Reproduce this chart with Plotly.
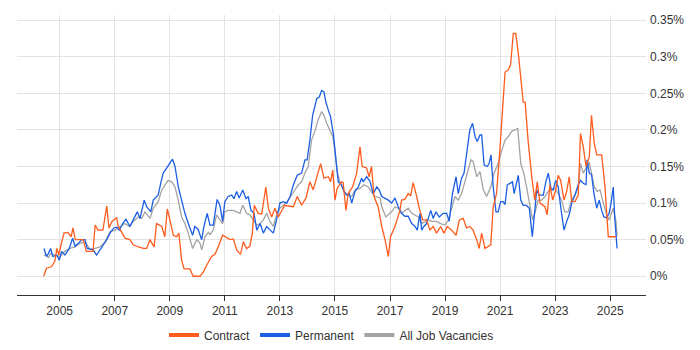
import plotly.graph_objects as go

# Decimal-year positions and percentage values
contract_t = [2004.42, 2004.52, 2004.70, 2004.82, 2004.90, 2004.97, 2005.06, 2005.16, 2005.30, 2005.42,
              2005.48, 2005.57, 2005.74, 2005.85, 2005.97, 2006.10, 2006.21, 2006.29, 2006.39, 2006.57,
              2006.71, 2006.79, 2006.90, 2007.07, 2007.13, 2007.26, 2007.37, 2007.55, 2007.67, 2007.86,
              2008.04, 2008.16, 2008.28, 2008.43, 2008.52, 2008.71, 2008.82, 2008.91, 2009.01, 2009.13,
              2009.25, 2009.33, 2009.43, 2009.52, 2009.73, 2009.85, 2010.10, 2010.22, 2010.34, 2010.52,
              2010.64, 2010.76, 2010.92, 2011.07, 2011.19, 2011.31, 2011.43, 2011.57, 2011.67, 2011.79,
              2011.91, 2012.00, 2012.07, 2012.21, 2012.34, 2012.49, 2012.58, 2012.70, 2012.82, 2012.94,
              2013.06, 2013.18, 2013.30, 2013.49, 2013.63, 2013.79, 2013.95, 2014.09, 2014.21, 2014.34,
              2014.48, 2014.60, 2014.76, 2014.84, 2014.92, 2015.00, 2015.08, 2015.24, 2015.30, 2015.40,
              2015.48, 2015.64, 2015.79, 2015.91, 2015.99, 2016.15, 2016.24, 2016.33, 2016.42, 2016.57,
              2016.70, 2016.82, 2016.94, 2017.02, 2017.18, 2017.36, 2017.42, 2017.54, 2017.66, 2017.75,
              2017.84, 2017.97, 2018.06, 2018.19, 2018.33, 2018.45, 2018.57, 2018.69, 2018.84, 2018.96,
              2019.08, 2019.24, 2019.40, 2019.52, 2019.66, 2019.78, 2019.90, 2020.02, 2020.15, 2020.24,
              2020.33, 2020.45, 2020.53, 2020.66, 2020.75, 2020.87, 2020.99, 2021.09, 2021.18, 2021.30,
              2021.38, 2021.48, 2021.57, 2021.66, 2021.75, 2021.84, 2021.91, 2022.02, 2022.15, 2022.26,
              2022.35, 2022.45, 2022.63, 2022.71, 2022.81, 2022.91, 2023.02, 2023.11, 2023.20, 2023.32,
              2023.42, 2023.51, 2023.60, 2023.72, 2023.84, 2023.92, 2024.02, 2024.12, 2024.24, 2024.32,
              2024.42, 2024.51, 2024.69, 2024.81, 2024.93, 2025.05, 2025.21]
contract_v = [0.0, 0.011, 0.013, 0.02, 0.038, 0.029, 0.045, 0.059, 0.06, 0.054,
              0.066, 0.05, 0.05, 0.05, 0.034, 0.034, 0.034, 0.07, 0.063, 0.063,
              0.096, 0.066, 0.075, 0.08, 0.068, 0.06, 0.052, 0.05, 0.043, 0.04,
              0.038, 0.038, 0.05, 0.04, 0.072, 0.068, 0.054, 0.092, 0.077, 0.056,
              0.054, 0.059, 0.022, 0.01, 0.01, 0.0, 0.0, 0.006, 0.015, 0.027,
              0.03, 0.04, 0.056, 0.052, 0.05, 0.051, 0.036, 0.03, 0.047, 0.038,
              0.041, 0.059, 0.097, 0.086, 0.085, 0.122, 0.093, 0.081, 0.093, 0.081,
              0.09, 0.097, 0.096, 0.095, 0.109, 0.097, 0.107, 0.129, 0.118, 0.134,
              0.154, 0.134, 0.136, 0.129, 0.145, 0.104, 0.12, 0.129, 0.128, 0.09,
              0.113, 0.122, 0.141, 0.177, 0.15, 0.148, 0.136, 0.15, 0.109, 0.095,
              0.068, 0.05, 0.027, 0.054, 0.068, 0.09, 0.104, 0.105, 0.113, 0.11,
              0.128, 0.109, 0.093, 0.077, 0.077, 0.063, 0.068, 0.059, 0.068, 0.059,
              0.068, 0.063, 0.056, 0.077, 0.079, 0.066, 0.068, 0.063, 0.05, 0.038,
              0.059, 0.038, 0.04, 0.043, 0.095, 0.113, 0.172, 0.227, 0.279, 0.282,
              0.289, 0.332, 0.332, 0.305, 0.273, 0.238, 0.238, 0.184, 0.136, 0.104,
              0.129, 0.1, 0.095, 0.084, 0.125, 0.104, 0.118, 0.138, 0.131, 0.104,
              0.116, 0.136, 0.102, 0.102, 0.111, 0.195, 0.177, 0.15, 0.163, 0.22,
              0.182, 0.166, 0.166, 0.122, 0.054, 0.054, 0.054]

permanent_t = [2004.43, 2004.52, 2004.59, 2004.67, 2004.75, 2004.89, 2004.99, 2005.07, 2005.19, 2005.35,
               2005.47, 2005.56, 2005.68, 2005.80, 2005.92, 2006.00, 2006.10, 2006.22, 2006.34, 2006.46,
               2006.58, 2006.71, 2006.83, 2006.97, 2007.07, 2007.17, 2007.29, 2007.41, 2007.55, 2007.67,
               2007.82, 2007.92, 2008.07, 2008.16, 2008.31, 2008.40, 2008.58, 2008.67, 2008.76, 2008.89,
               2009.01, 2009.10, 2009.19, 2009.31, 2009.43, 2009.55, 2009.71, 2009.83, 2009.91, 2010.03,
               2010.16, 2010.24, 2010.36, 2010.46, 2010.58, 2010.72, 2010.82, 2010.92, 2011.00, 2011.12,
               2011.25, 2011.33, 2011.43, 2011.52, 2011.65, 2011.77, 2011.85, 2011.95, 2012.06, 2012.16,
               2012.28, 2012.40, 2012.52, 2012.64, 2012.76, 2012.88, 2013.00, 2013.12, 2013.25, 2013.37,
               2013.49, 2013.63, 2013.79, 2013.91, 2013.99, 2014.09, 2014.19, 2014.27, 2014.34, 2014.43,
               2014.52, 2014.60, 2014.67, 2014.76, 2014.84, 2014.94, 2015.04, 2015.12, 2015.24, 2015.33,
               2015.43, 2015.52, 2015.61, 2015.73, 2015.85, 2015.97, 2016.03, 2016.15, 2016.27, 2016.39,
               2016.52, 2016.61, 2016.70, 2016.82, 2016.94, 2017.06, 2017.18, 2017.30, 2017.42, 2017.54,
               2017.66, 2017.79, 2017.91, 2017.99, 2018.09, 2018.15, 2018.23, 2018.33, 2018.48, 2018.57,
               2018.67, 2018.79, 2018.93, 2019.06, 2019.15, 2019.27, 2019.40, 2019.48, 2019.60, 2019.69,
               2019.78, 2019.90, 2020.00, 2020.09, 2020.17, 2020.27, 2020.33, 2020.42, 2020.53, 2020.60,
               2020.67, 2020.75, 2020.85, 2020.93, 2021.02, 2021.11, 2021.18, 2021.26, 2021.36, 2021.45,
               2021.51, 2021.60, 2021.66, 2021.75, 2021.84, 2021.96, 2022.06, 2022.17, 2022.26, 2022.33,
               2022.42, 2022.57, 2022.66, 2022.75, 2022.85, 2022.93, 2023.02, 2023.11, 2023.20, 2023.32,
               2023.42, 2023.51, 2023.60, 2023.72, 2023.84, 2023.92, 2024.02, 2024.12, 2024.16, 2024.24,
               2024.32, 2024.41, 2024.51, 2024.60, 2024.69, 2024.77, 2024.87, 2024.96, 2025.03, 2025.11,
               2025.17, 2025.25]
permanent_v = [0.038, 0.027, 0.031, 0.038, 0.027, 0.029, 0.022, 0.034, 0.029, 0.038,
               0.052, 0.041, 0.045, 0.05, 0.05, 0.038, 0.037, 0.036, 0.029, 0.036,
               0.043, 0.05, 0.059, 0.066, 0.067, 0.063, 0.072, 0.078, 0.068, 0.077,
               0.088, 0.079, 0.104, 0.095, 0.088, 0.104, 0.111, 0.127, 0.141, 0.148,
               0.154, 0.16, 0.15, 0.122, 0.104, 0.086, 0.068, 0.056, 0.068, 0.064,
               0.05, 0.068, 0.086, 0.07, 0.07, 0.105, 0.097, 0.075, 0.102, 0.109,
               0.111, 0.106, 0.116, 0.107, 0.118, 0.106, 0.109, 0.09, 0.086, 0.063,
               0.072, 0.059, 0.068, 0.063, 0.059, 0.077, 0.1, 0.102, 0.1, 0.109,
               0.125, 0.138, 0.141, 0.159, 0.159, 0.186, 0.22, 0.232, 0.243, 0.245,
               0.254, 0.252, 0.238, 0.227, 0.218, 0.195, 0.163, 0.129, 0.125, 0.116,
               0.111, 0.113, 0.1, 0.116, 0.122, 0.134, 0.129, 0.136, 0.13, 0.113,
               0.122, 0.118, 0.109, 0.107, 0.104, 0.1, 0.107, 0.095, 0.086, 0.082,
               0.082, 0.072, 0.068, 0.063, 0.086, 0.063, 0.068, 0.072, 0.09, 0.079,
               0.088, 0.081, 0.086, 0.086, 0.075, 0.113, 0.136, 0.113, 0.134, 0.141,
               0.168, 0.2, 0.209, 0.191, 0.184, 0.193, 0.193, 0.152, 0.15, 0.154,
               0.166, 0.122, 0.088, 0.088, 0.102, 0.102, 0.098, 0.125, 0.127, 0.129,
               0.113, 0.129, 0.138, 0.104, 0.097, 0.097, 0.093, 0.054, 0.095, 0.118,
               0.111, 0.111, 0.129, 0.141, 0.12, 0.118, 0.131, 0.122, 0.095, 0.063,
               0.075, 0.084, 0.1, 0.111, 0.125, 0.131, 0.127, 0.125, 0.159, 0.141,
               0.139, 0.113, 0.093, 0.104, 0.09, 0.081, 0.08, 0.086, 0.1, 0.122,
               0.077, 0.038]

all_t = [2004.43, 2004.52, 2004.59, 2004.67, 2004.83, 2005.01, 2005.19, 2005.37, 2005.56, 2005.74,
         2005.92, 2006.10, 2006.28, 2006.46, 2006.65, 2006.83, 2007.01, 2007.19, 2007.37, 2007.55,
         2007.67, 2007.86, 2007.98, 2008.10, 2008.28, 2008.40, 2008.58, 2008.71, 2008.82, 2008.94,
         2009.07, 2009.19, 2009.31, 2009.43, 2009.55, 2009.67, 2009.83, 2009.98, 2010.10, 2010.16,
         2010.28, 2010.40, 2010.46, 2010.58, 2010.70, 2010.82, 2010.92, 2011.00, 2011.12, 2011.31,
         2011.43, 2011.55, 2011.65, 2011.79, 2011.91, 2012.03, 2012.16, 2012.28, 2012.40, 2012.52,
         2012.64, 2012.76, 2012.90, 2013.00, 2013.12, 2013.27, 2013.39, 2013.51, 2013.67, 2013.79,
         2013.91, 2014.03, 2014.15, 2014.27, 2014.39, 2014.52, 2014.60, 2014.70, 2014.82, 2014.92,
         2015.00, 2015.08, 2015.18, 2015.33, 2015.45, 2015.61, 2015.73, 2015.91, 2016.05, 2016.21,
         2016.33, 2016.45, 2016.64, 2016.70, 2016.85, 2016.94, 2017.06, 2017.18, 2017.30, 2017.42,
         2017.54, 2017.66, 2017.79, 2017.91, 2018.03, 2018.15, 2018.27, 2018.39, 2018.51, 2018.69,
         2018.84, 2019.00, 2019.12, 2019.24, 2019.36, 2019.48, 2019.60, 2019.72, 2019.84, 2019.94,
         2020.02, 2020.15, 2020.27, 2020.39, 2020.51, 2020.66, 2020.78, 2020.93, 2021.06, 2021.18,
         2021.30, 2021.42, 2021.54, 2021.64, 2021.75, 2021.86, 2021.96, 2022.08, 2022.18, 2022.26,
         2022.38, 2022.51, 2022.63, 2022.75, 2022.87, 2022.99, 2023.11, 2023.23, 2023.35, 2023.47,
         2023.60, 2023.72, 2023.84, 2023.92, 2024.02, 2024.14, 2024.24, 2024.32, 2024.42, 2024.53,
         2024.63, 2024.75, 2024.87, 2024.96, 2025.05, 2025.11, 2025.21, 2025.25]
all_v = [0.029, 0.029, 0.025, 0.031, 0.029, 0.027, 0.034, 0.038, 0.04, 0.045,
         0.047, 0.037, 0.038, 0.04, 0.047, 0.061, 0.063, 0.068, 0.072, 0.068,
         0.075, 0.081, 0.079, 0.088, 0.079, 0.093, 0.102, 0.118, 0.125, 0.131,
         0.129, 0.122, 0.104, 0.081, 0.072, 0.059, 0.038, 0.05, 0.045, 0.036,
         0.054, 0.06, 0.057, 0.063, 0.084, 0.077, 0.072, 0.088, 0.09, 0.09,
         0.088, 0.086, 0.097, 0.086, 0.084, 0.077, 0.07, 0.072, 0.077, 0.086,
         0.075, 0.068, 0.086, 0.093, 0.097, 0.102, 0.109, 0.116, 0.125, 0.129,
         0.141, 0.15, 0.186, 0.198, 0.214, 0.225, 0.22, 0.209, 0.2, 0.191,
         0.172, 0.143, 0.129, 0.116, 0.111, 0.109, 0.118, 0.12, 0.125, 0.122,
         0.115, 0.109, 0.107, 0.095, 0.081, 0.084, 0.088, 0.095, 0.093, 0.086,
         0.09, 0.093, 0.086, 0.084, 0.081, 0.072, 0.075, 0.077, 0.075, 0.075,
         0.072, 0.07, 0.077, 0.095, 0.109, 0.104, 0.113, 0.129, 0.145, 0.159,
         0.157, 0.136, 0.143, 0.118, 0.109, 0.122, 0.141, 0.154, 0.172, 0.186,
         0.191, 0.198, 0.2, 0.202, 0.154, 0.141, 0.122, 0.095, 0.077, 0.086,
         0.104, 0.104, 0.109, 0.116, 0.118, 0.12, 0.113, 0.104, 0.088, 0.088,
         0.104, 0.111, 0.122, 0.154, 0.141, 0.15, 0.156, 0.141, 0.122, 0.116,
         0.118, 0.1, 0.084, 0.077, 0.086, 0.093, 0.075, 0.055]

year_ticks = [2005, 2007, 2009, 2011, 2013, 2015, 2017, 2019, 2021, 2023, 2025]
y_ticks = [0, 0.05, 0.1, 0.15, 0.2, 0.25, 0.3, 0.35]
y_labels = ["0%", "0.05%", "0.1%", "0.15%", "0.2%", "0.25%", "0.3%", "0.35%"]

series = [
    ("Contract", contract_t, contract_v, "#ff5b1c"),
    ("Permanent", permanent_t, permanent_v, "#1c5fe4"),
    ("All Job Vacancies", all_t, all_v, "#a3a3a3"),
]

fig = go.Figure()
# grey drawn first so the coloured lines sit on top
for name, t, v, col in [series[2], series[1], series[0]]:
    fig.add_trace(go.Scatter(x=t, y=v, mode="lines", name=name, legendgroup=name,
                             showlegend=False, line=dict(color=col, width=1.3)))
for name, t, v, col in series:
    fig.add_trace(go.Scatter(x=[None], y=[None], mode="lines", name=name, legendgroup=name,
                             showlegend=True, line=dict(color=col, width=4)))

# page body has an 8px margin, so the figure is sized/offset to compensate
fig.update_layout(
    width=692, height=342,
    margin=dict(l=9, r=54, t=7, b=55, autoexpand=False),
    paper_bgcolor="white", plot_bgcolor="white",
    font=dict(family="Liberation Sans, Arial, sans-serif", size=12, color="#333333"),
    showlegend=True,
    legend=dict(orientation="h", x=0.5, xanchor="center", y=-0.143, yanchor="middle",
                font=dict(size=12, color="#333333"), itemwidth=30, tracegroupgap=0,
                traceorder="normal"),
)
fig.update_xaxes(
    range=[2003.45, 2026.3], tickmode="array", tickvals=year_ticks,
    ticktext=[str(y) for y in year_ticks],
    showgrid=True, gridcolor="#e3e3e3", gridwidth=1, zeroline=False,
    showline=True, linecolor="#333333", linewidth=1,
    ticks="outside", ticklen=5, tickcolor="#333333",
    tickfont=dict(size=12, color="#333333"),
)
fig.update_yaxes(
    range=[-0.0256, 0.357], side="right", tickmode="array", tickvals=y_ticks, ticktext=y_labels,
    showgrid=True, gridcolor="#e3e3e3", gridwidth=1, zeroline=False, showline=False,
    ticks="", ticklabelstandoff=3, tickfont=dict(size=12, color="#333333"),
)

fig.write_html("out.html")
